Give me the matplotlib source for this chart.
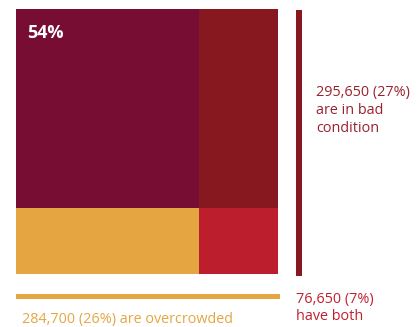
import matplotlib
matplotlib.use("Agg")
import matplotlib.pyplot as plt

# mosaic of homes: rows = not overcrowded / overcrowded, cols = good / bad condition
col_widths = [70, 30]        # share of width: not bad / bad condition
row_heights = [25, 75]       # share of height: overcrowded (bottom) / not overcrowded (top)
cell_colors = [["#E5A642", "#BD1E2D"],   # bottom row
               ["#780D34", "#88181F"]]   # top row
big_label = "54%"

bad_label = "295,650 (27%)\nare in bad\ncondition"
crowd_label = "284,700 (26%) are overcrowded"
both_label = "76,650 (7%)\nhave both"

plt.rcParams['font.family'] = ['Open Sans', 'DejaVu Sans']

fig = plt.figure(figsize=(4.17, 3.27), dpi=100)
W, H = 417, 327
ax = fig.add_axes([16 / W, (H - 274) / H, 262 / W, 265 / H])
ax.set_xlim(0, 100)
ax.set_ylim(0, 100)
ax.axis('off')

left = 0
for j, w in enumerate(col_widths):
    bottom = 0
    for i, h in enumerate(row_heights):
        ax.bar(left, h, width=w, bottom=bottom, align='edge',
               color=cell_colors[i][j], linewidth=0)
        bottom += h
    left += w

# side markers
ax.bar(106.9, 100.4, width=2.3, bottom=-0.6, align='edge', color="#88181F",
       linewidth=0, clip_on=False)
ax.bar(0, 2.1, width=100.8, bottom=-9.5, align='edge', color="#E5A642",
       linewidth=0, clip_on=False)

ax.text(4.3, 91, big_label, color="white", fontsize=13, fontweight='bold',
        va='center', ha='left')
ax.text(114.5, 71.5, bad_label, color="#98222E", fontsize=10.4, va='top',
        ha='left', linespacing=1.3)
ax.text(2.2, -14.3, crowd_label, color="#E5A642", fontsize=10.4, va='top',
        ha='left')
ax.text(106.8, -6.9, both_label, color="#C0202E", fontsize=10.4, va='top',
        ha='left', linespacing=1.2)

fig.savefig("out.png", dpi=100)
